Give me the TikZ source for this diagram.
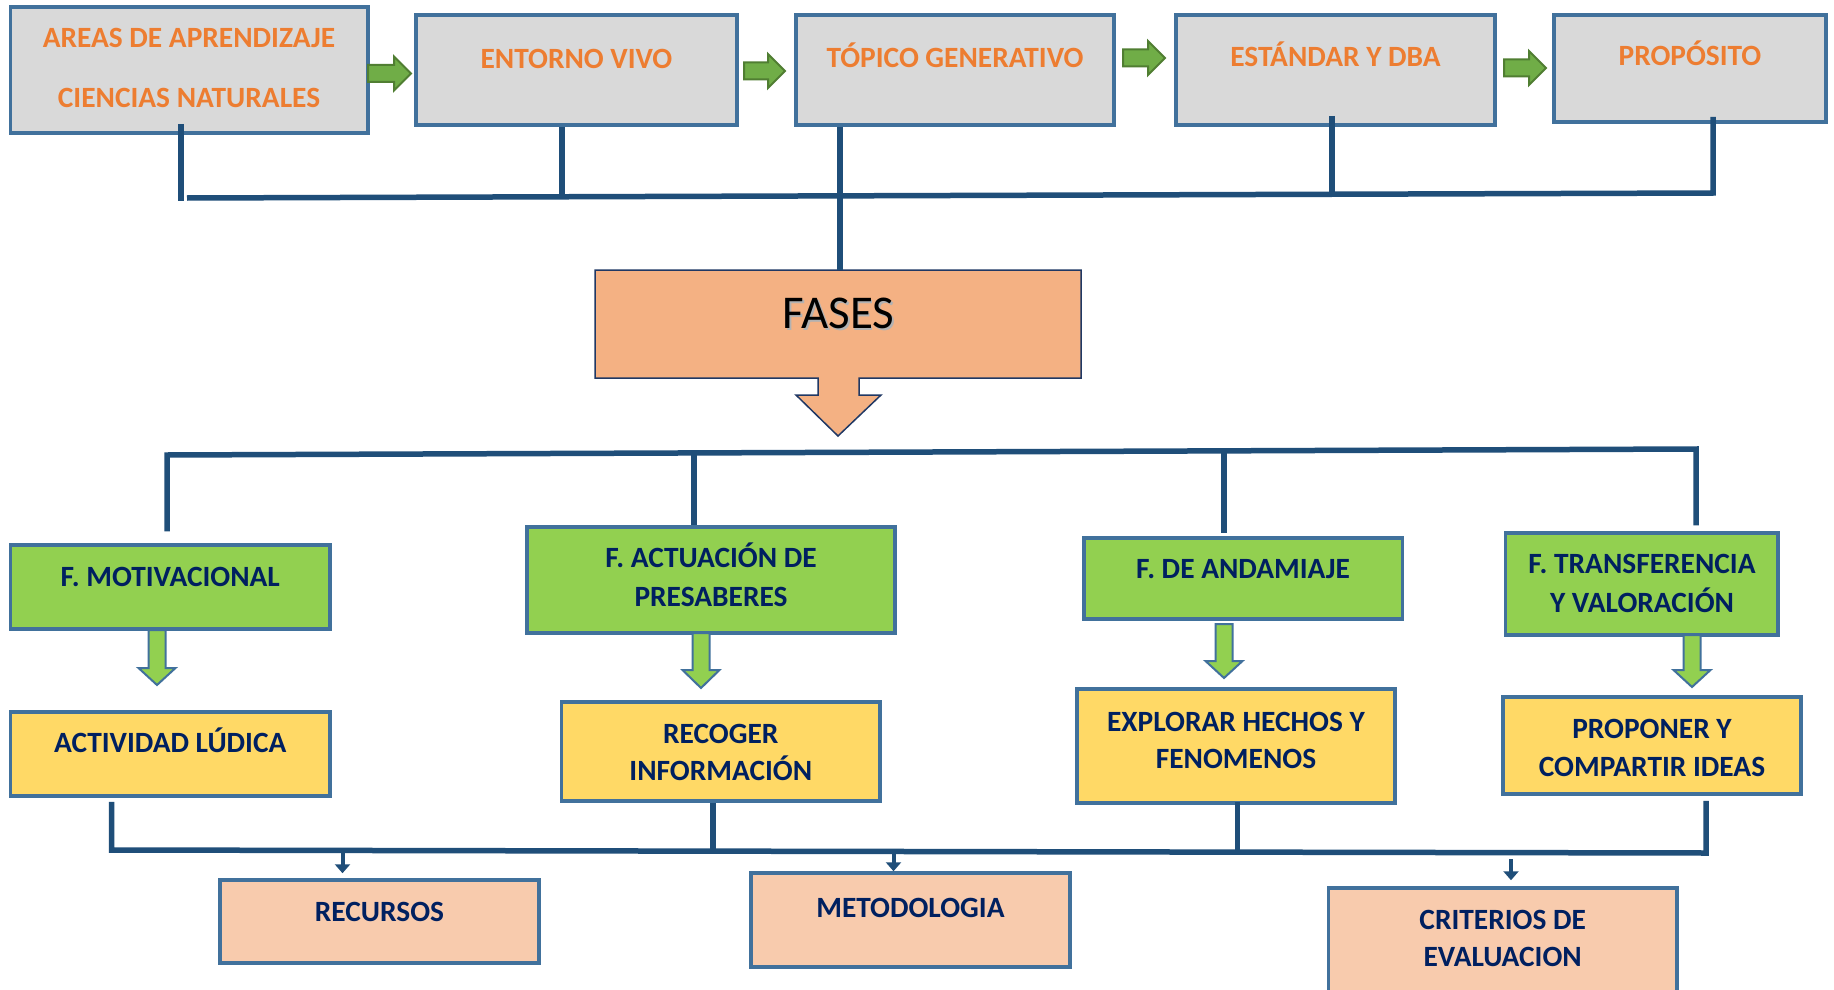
\documentclass[tikz,border=0pt]{standalone}
\usepackage{fontspec}
\setmainfont{Carlito}
\usetikzlibrary{fit,calc,arrows.meta}

\definecolor{boxline}{HTML}{41719C}
\definecolor{grayfill}{HTML}{D9D9D9}
\definecolor{orangetxt}{HTML}{ED7D31}
\definecolor{navytxt}{HTML}{002060}
\definecolor{greenfill}{HTML}{92D050}
\definecolor{yellowfill}{HTML}{FFD966}
\definecolor{pinkfill}{HTML}{F8CBAD}
\definecolor{fasesfill}{HTML}{F4B183}
\definecolor{fasesline}{HTML}{203864}
\definecolor{busline}{HTML}{1F4E79}
\definecolor{arrowgreen}{HTML}{70AD47}
\definecolor{arrowgreenline}{HTML}{507E32}

\tikzset{
  box/.style={draw=boxline, line width=3.5pt, inner sep=0pt},
  topbox/.style={box, fill=grayfill},
  phasebox/.style={box, fill=greenfill},
  taskbox/.style={box, fill=yellowfill},
  endbox/.style={box, fill=pinkfill},
  toptext/.style={anchor=base, inner sep=0pt, text=orangetxt,
    font=\fontsize{29.4}{29.4}\selectfont\bfseries},
  labtext/.style={anchor=base, inner sep=0pt, text=navytxt,
    font=\fontsize{29.4}{29.4}\selectfont\bfseries},
  bus/.style={draw=busline, line width=5.5pt},
  rightblock/.style={fill=arrowgreen, draw=arrowgreenline, line width=2pt},
  downblock/.style={fill=greenfill, draw=boxline, line width=2pt},
  smallarrow/.style={draw=busline, line width=4pt,
    -{Triangle[width=15pt,length=9pt]}}
}

% block arrow pointing right: x start, x tip, centre y
\newcommand\rblock[3]{\path[rightblock] (#1,#3-8.5) -- (#2-17,#3-8.5) -- (#2-17,#3-17)
  -- (#2,#3) -- (#2-17,#3+17) -- (#2-17,#3+8.5) -- (#1,#3+8.5) -- cycle;}
% block arrow pointing down: centre x, top y, head start y, tip y
\newcommand\dblock[4]{\path[downblock] (#1-8.5,#2) -- (#1+8.5,#2) -- (#1+8.5,#3)
  -- (#1+18.5,#3) -- (#1,#4) -- (#1-18.5,#3) -- (#1-8.5,#3) -- cycle;}

\begin{document}
\begin{tikzpicture}[x=1pt,y=-1pt]
\clip (0,0) rectangle (1834,990);
\fill[white] (0,0) rectangle (1834,990);

% ---- top row ----
\node[topbox, fit={(10.7,7)(368,133)}] (areas) {};
\node[topbox, fit={(416,15)(737,125)}] (entorno) {};
\node[topbox, fit={(796,15)(1114,125)}] (topico) {};
\node[topbox, fit={(1176,15)(1495,125)}] (estandar) {};
\node[topbox, fit={(1554,15)(1826,122)}] (proposito) {};

\node[toptext] (areasA) at (189,47.8) {AREAS DE APRENDIZAJE};
\node[toptext] (areasB) at (189,107.8) {CIENCIAS NATURALES};
\node[toptext] (entornoT) at (576.5,68.3) {ENTORNO VIVO};
\node[toptext] (topicoT) at (955,67.5) {TÓPICO GENERATIVO};
\node[toptext] (estandarT) at (1335.5,66.5) {ESTÁNDAR Y DBA};
\node[toptext] (propositoT) at (1690,66) {PROPÓSITO};

\rblock{368}{411}{73.5}
\rblock{744}{785}{71}
\rblock{1123}{1165}{58}
\rblock{1504}{1546}{68}

% ---- FASES box with its down arrow ----
\path[fill=fasesfill, draw=fasesline, line width=1.5pt, line join=miter]
  (595,270) -- (1081,270) -- (1081,378) -- (859,378) -- (859,395) -- (881,395)
  -- (838,436) -- (796,395) -- (818,395) -- (818,378) -- (595,378) -- cycle;
\node[fit={(595,270)(1081,378)}, inner sep=0pt] (fases) {};
\node[anchor=base, inner sep=0pt, text=black!30, font=\fontsize{47}{47}\selectfont]
  (fasesS) at (840,330) {FASES};
\node[anchor=base, inner sep=0pt, text=black, font=\fontsize{47}{47}\selectfont]
  (fasesT) at (838.5,328.5) {FASES};

% ---- phases ----
\node[phasebox, fit={(10.6,545)(330,629)}] (motiv) {};
\node[phasebox, fit={(527,527)(895,633)}] (actua) {};
\node[phasebox, fit={(1084,538)(1402.5,619)}] (andam) {};
\node[phasebox, fit={(1505.6,533)(1778,635)}] (transf) {};

\node[labtext] (motivT) at (170.3,586.3) {F. MOTIVACIONAL};
\node[labtext] (actuaA) at (711,567.5) {F. ACTUACIÓN DE};
\node[labtext] (actuaB) at (711,606.5) {PRESABERES};
\node[labtext] (andamT) at (1243,578.5) {F. DE ANDAMIAJE};
\node[labtext] (transfA) at (1642,573.5) {F. TRANSFERENCIA};
\node[labtext] (transfB) at (1642,612.5) {Y VALORACIÓN};

% ---- activities ----
\node[taskbox, fit={(10.6,712)(330,796)}] (activ) {};
\node[taskbox, fit={(561.6,702)(880,801)}] (recog) {};
\node[taskbox, fit={(1077,689)(1395,803)}] (explo) {};
\node[taskbox, fit={(1503,697)(1801,794)}] (propo) {};

\node[labtext] (activT) at (170.3,752.3) {ACTIVIDAD LÚDICA};
\node[labtext] (recogA) at (720.8,743.3) {RECOGER};
\node[labtext] (recogB) at (720.8,780.3) {INFORMACIÓN};
\node[labtext] (exploA) at (1236,731) {EXPLORAR HECHOS Y};
\node[labtext] (exploB) at (1236,768.3) {FENOMENOS};
\node[labtext] (propoA) at (1652,738.3) {PROPONER Y};
\node[labtext] (propoB) at (1652,776) {COMPARTIR IDEAS};

\dblock{157}{630}{668}{685}
\dblock{701}{633}{670}{688}
\dblock{1224}{624}{661}{678}
\dblock{1692}{635}{670}{687}

% ---- closing boxes ----
\node[endbox, fit={(220,880)(539,963)}] (recur) {};
\node[endbox, fit={(751,873)(1070,967)}] (metod) {};
\node[endbox, fit={(1328.5,888)(1677,1000)}] (crit) {};

\node[labtext] (recurT) at (379.5,921) {RECURSOS};
\node[labtext] (metodT) at (910.5,917.5) {METODOLOGIA};
\node[labtext] (critA) at (1502.7,929.5) {CRITERIOS DE};
\node[labtext] (critB) at (1502.7,966.5) {EVALUACION};

% ---- upper bus ----
\coordinate (ta) at (181,201);
\coordinate (tb) at (562,196);
\coordinate (tc) at (840,195);
\coordinate (td) at (1332,194);
\coordinate (te) at (1713,193);
\coordinate (tl) at (187,198);
\draw[bus] ($(areas.south -| ta)+(0,-11)$) -- (ta);
\draw[bus] (entorno.south -| tb) -- (tb);
\draw[bus] (topico.south -| tc) -- (fases.north -| tc);
\draw[bus] ($(estandar.south -| td)+(0,-11)$) -- (td);
\draw[bus] ($(proposito.south -| te)+(0,-7)$) -- (te) -- (tl);

% ---- middle bus ----
\coordinate (ma) at (167,455);
\coordinate (mb) at (694,454);
\coordinate (mc) at (1224,452);
\coordinate (md) at (1696,449);
\draw[bus] ($(motiv.north -| ma)+(0,-12)$) -- (ma) -- (md) -- ($(transf.north -| md)+(0,-6)$);
\draw[bus] (mb) -- (actua.north -| mb);
\draw[bus] (mc) -- ($(andam.north -| mc)+(0,-3)$);

% ---- lower bus ----
\coordinate (ba) at (111.5,850);
\coordinate (bb) at (713,854);
\coordinate (bc) at (1237.6,852);
\coordinate (bd) at (1706,853);
\draw[bus] ($(activ.south -| ba)+(0,4)$) -- (ba) -- (bd) -- ($(propo.south -| bd)+(0,5)$);
\draw[bus] (recog.south -| bb) -- (bb);
\draw[bus] ($(explo.south -| bc)+(0,-3)$) -- (bc);

% ---- small arrows to the closing boxes ----
\coordinate (sa) at (342.5,853);
\coordinate (sb) at (893.5,853);
\coordinate (sc) at (1511,859);
\draw[smallarrow] (sa) -- ($(recur.north -| sa)+(0,-5)$);
\draw[smallarrow] (sb) -- (metod.north -| sb);
\draw[smallarrow] (sc) -- ($(crit.north -| sc)+(0,-6)$);
\end{tikzpicture}
\end{document}
